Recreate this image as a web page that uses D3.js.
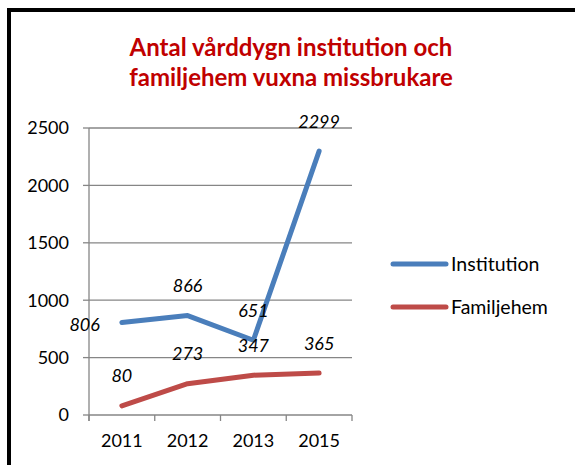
<!DOCTYPE html>
<html lang="sv">
<head>
  <meta charset="UTF-8">
  <title>Antal vårddygn</title>
  <style>
    body { margin: 0; background: #fff; }
    text { font-family: Lato, "Open Sans", sans-serif; fill: #000; }
    .title { font-weight: bold; fill: #c00000; font-size: 24px; text-anchor: middle; }
    .tick-label { font-size: 18px; }
    .data-label { font-size: 18px; font-style: italic; }
    .legend-label { font-size: 19.5px; }
    .grid { stroke: #868686; stroke-width: 1.3px; }
    .axis { stroke: #868686; stroke-width: 1.3px; }
    .series { fill: none; stroke-width: 5px; stroke-linejoin: round; stroke-linecap: round; }
  </style>
</head>
<body>
  <svg width="575" height="465"></svg>

  <script src="https://d3js.org/d3.v7.min.js"></script>
  <script>
    var years = ["2011", "2012", "2013", "2015"];
    var institution = [806, 866, 651, 2299];
    var familjehem = [80, 273, 347, 365];
    var yTicks = [0, 500, 1000, 1500, 2000, 2500];
    var titleLines = ["Antal vårddygn institution och", "familjehem vuxna missbrukare"];

    var series = [
      {name: "Institution", values: institution, color: "#4a7ebb", labelPos: ["left", "above", "above", "above"]},
      {name: "Familjehem", values: familjehem, color: "#be4b48", labelPos: ["above", "above", "above", "above"]}
    ];

    var svg = d3.select("svg");

    // frame (only top and left edges are visible in the picture)
    svg.append("rect")
        .attr("x", 9).attr("y", 10)
        .attr("width", 700).attr("height", 600)
        .attr("fill", "none")
        .attr("stroke", "#000")
        .attr("stroke-width", 4);

    svg.selectAll(".title")
        .data(titleLines)
        .enter().append("text")
        .attr("class", "title")
        .attr("x", 291)
        .attr("y", function(d, i) { return 56 + i * 30; })
        .text(function(d) { return d; });

    var x = d3.scalePoint().domain(years).range([89, 352]).padding(0.5);
    var xBand = d3.scaleBand().domain(years).range([89, 352]);
    var y = d3.scaleLinear().domain([0, 2500]).range([415, 128]);

    // gridlines
    svg.append("g")
        .selectAll("line")
        .data(yTicks.filter(function(d) { return d > 0; }))
        .enter().append("line")
        .attr("class", "grid")
        .attr("x1", 89).attr("x2", 352)
        .attr("y1", function(d) { return y(d); })
        .attr("y2", function(d) { return y(d); });

    // y axis
    var yAxis = svg.append("g");
    yAxis.append("line").attr("class", "axis")
        .attr("x1", 89).attr("x2", 89)
        .attr("y1", y(2500)).attr("y2", y(0) + 6);
    yAxis.selectAll(".ytick")
        .data(yTicks)
        .enter().append("line")
        .attr("class", "axis")
        .attr("x1", 83).attr("x2", 89)
        .attr("y1", function(d) { return y(d); })
        .attr("y2", function(d) { return y(d); });
    yAxis.selectAll("text")
        .data(yTicks)
        .enter().append("text")
        .attr("class", "tick-label")
        .attr("x", 69)
        .attr("y", function(d) { return y(d); })
        .attr("dy", "0.36em")
        .attr("text-anchor", "end")
        .text(function(d) { return d; });

    // x axis
    var xAxis = svg.append("g");
    xAxis.append("line").attr("class", "axis")
        .attr("x1", 89).attr("x2", 352)
        .attr("y1", y(0)).attr("y2", y(0));
    var edges = years.map(function(d) { return xBand(d); }).concat([xBand("2015") + xBand.bandwidth()]);
    xAxis.selectAll(".xtick")
        .data(edges)
        .enter().append("line")
        .attr("class", "axis")
        .attr("x1", function(d) { return d; }).attr("x2", function(d) { return d; })
        .attr("y1", y(0)).attr("y2", y(0) + 6);
    xAxis.selectAll("text")
        .data(years)
        .enter().append("text")
        .attr("class", "tick-label")
        .attr("x", function(d) { return x(d); })
        .attr("y", 447)
        .attr("text-anchor", "middle")
        .text(function(d) { return d; });

    var line = d3.line()
        .x(function(d, i) { return x(years[i]); })
        .y(function(d) { return y(d); });

    svg.append("g")
        .selectAll("path")
        .data(series)
        .enter().append("path")
        .attr("class", "series")
        .attr("stroke", function(d) { return d.color; })
        .attr("d", function(d) { return line(d.values); });

    // data labels
    series.forEach(function(s) {
      svg.append("g")
          .selectAll("text")
          .data(s.values)
          .enter().append("text")
          .attr("class", "data-label")
          .attr("x", function(d, i) { return s.labelPos[i] === "left" ? x(years[i]) - 22 : x(years[i]); })
          .attr("y", function(d, i) { return s.labelPos[i] === "left" ? y(d) + 2 : y(d) - 30; })
          .attr("dy", "0.36em")
          .attr("text-anchor", function(d, i) { return s.labelPos[i] === "left" ? "end" : "middle"; })
          .text(function(d) { return d; });
    });

    // legend
    var legend = svg.append("g")
        .selectAll("g")
        .data(series)
        .enter().append("g")
        .attr("transform", function(d, i) { return "translate(0," + (264 + i * 43) + ")"; });
    legend.append("line")
        .attr("x1", 393).attr("x2", 446)
        .attr("y1", 0).attr("y2", 0)
        .attr("stroke", function(d) { return d.color; })
        .attr("stroke-width", 5)
        .attr("stroke-linecap", "round");
    legend.append("text")
        .attr("class", "legend-label")
        .attr("x", 451)
        .attr("dy", "0.36em")
        .text(function(d) { return d.name; });
  </script>
</body>
</html>
